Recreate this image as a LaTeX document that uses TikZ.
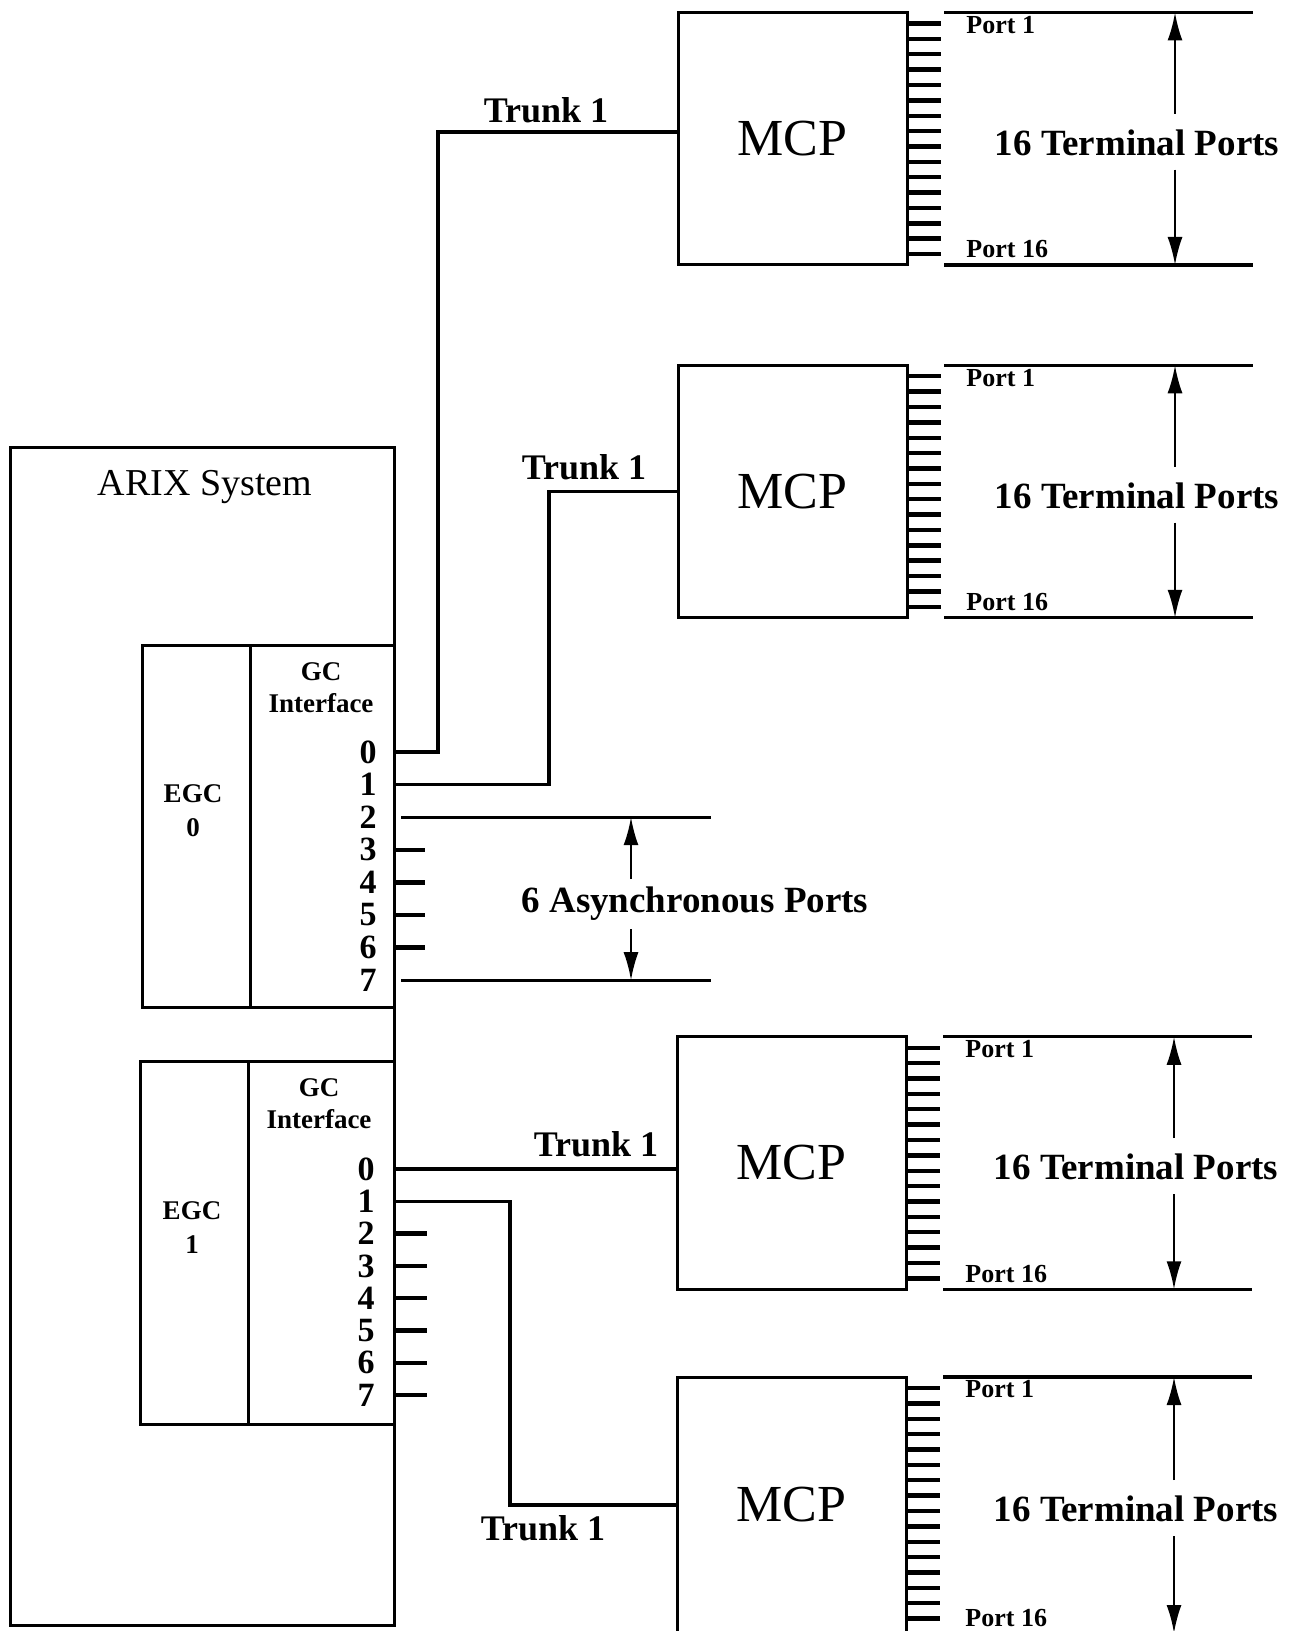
\documentclass[tikz,border=0pt]{standalone}
\usepackage{fontspec}
\setmainfont{Liberation Serif}
\usetikzlibrary{arrows.meta,calc}
\begin{document}
\begin{tikzpicture}[x=0.5pt,y=-0.5pt,
  box/.style={draw, line width=1.5pt, inner sep=0pt, outer sep=0pt},
  mcpbox/.style={box, minimum width=114.5pt, minimum height=126.25pt, font=\fontsize{26}{28}\selectfont},
  wire/.style={line width=1.6pt},
  tickline/.style={line width=2.2pt},
  dim/.style={line width=1.1pt, -{Latex[length=14pt,width=7.5pt]}},
  trunk/.style={font=\bfseries\fontsize{18}{20}\selectfont, inner sep=0pt},
  big/.style={font=\bfseries\fontsize{18.5}{20}\selectfont, inner sep=0pt},
  small/.style={font=\bfseries\fontsize{13}{15}\selectfont, inner sep=0pt},
  mid/.style={font=\bfseries\fontsize{13.5}{16}\selectfont, inner sep=0pt, align=center},
  num/.style={font=\bfseries\fontsize{17}{17}\selectfont, inner sep=0pt}]
\useasboundingbox (0,0) rectangle (1299,1631);

% ARIX system box
\node[box, minimum width=191.8pt, minimum height=589pt] (arix) at (202.2,1036) {};
\node[font=\fontsize{19}{21}\selectfont, inner sep=0pt] (arixlab) at (205,487) {ARIX System};

% EGC 0
\node[box, minimum width=53.75pt, minimum height=181pt] (egc0) at (196.25,826) {};
\node[box, minimum width=72pt, minimum height=181pt] (gc0) at (322,826) {};
\node[mid, font=\bfseries\fontsize{13.5}{17}\selectfont] (egc0lab) at (193,811) {EGC\\0};
\node[mid, font=\bfseries\fontsize{13.5}{16}\selectfont] (gc0lab) at (321,688) {GC\\Interface};

% EGC 1
\node[box, minimum width=54pt, minimum height=181.5pt] (egc1) at (194,1242.5) {};
\node[box, minimum width=73pt, minimum height=181.5pt] (gc1) at (321,1242.5) {};
\node[mid, font=\bfseries\fontsize{13.5}{17}\selectfont] (egc1lab) at (192,1228) {EGC\\1};
\node[mid, font=\bfseries\fontsize{13.5}{16}\selectfont] (gc1lab) at (319,1104) {GC\\Interface};

% port coordinates
\foreach \i in {0,...,7}{
  \coordinate (a\i) at (394,752+\i*32.6);
  \coordinate (b\i) at (394,1169+\i*32.3);
  \node[num] (na\i) at ($(a\i)+(-26,0)$) {\i};
  \node[num] (nb\i) at ($(b\i)+(-28,0)$) {\i};
}

% MCP boxes
\node[mcpbox] (mcp1) at (792.5,138.75) {MCP};
\node[mcpbox] (mcp2) at (792.5,491.5) {MCP};
\node[mcpbox] (mcp3) at (791.5,1163) {MCP};
\node[mcpbox, minimum height=128pt] (mcp4) at (791.5,1505) {MCP};

% terminal ports of each MCP
\foreach \m in {mcp1,mcp2,mcp3,mcp4}{
  \foreach \i in {0,...,15}{
    \draw[tickline] ($(\m.north east)+(0,11+\i*15.37)$) -- ++(34,0);
  }
  \draw[wire] ($(\m.north east)+(37,0)$) -- ($(\m.north east)+(346,0)$);
  \draw[wire] ($(\m.south east)+(37,0)$) -- ($(\m.south east)+(346,0)$);
  \node[big] (\m txt) at ($(\m.east)+(230,4)$) {16 Terminal Ports};
  \draw[dim] ($(\m.east)+(268,-25)$) -- ($(\m.north east)+(268,0)$);
  \draw[dim] ($(\m.east)+(268,31)$) -- ($(\m.south east)+(268,0)$);
  \node[small, anchor=west] (\m p1) at ($(\m.north east)+(59,12.5)$) {Port 1};
  \node[small, anchor=west] (\m p16) at ($(\m.south east)+(59,-15.5)$) {Port 16};
}

% EGC 0 connections
\draw[wire] (a0) -- ++(44,0) |- (mcp1.west |- 0,132);
\draw[wire] (a1) -- ++(155,0) |- (mcp2.west);
\draw[wire] ($(a2)+(7,0)$) -- ++(310,0);
\draw[wire] ($(a7)+(7,0)$) -- ++(310,0);
\foreach \i in {3,...,6}{ \draw[tickline] (a\i) -- ++(31,0); }
\node[big] (async) at (695,904) {6 Asynchronous Ports};
\draw[dim] (631,879) -- (631,0 |- a2);
\draw[dim] (631,929) -- (631,0 |- a7);

% EGC 1 connections
\draw[wire] (b0) -- (mcp3.west |- b0);
\draw[wire] (b1) -- ++(116,0) |- (mcp4.west);
\foreach \i in {2,...,7}{ \draw[tickline] (b\i) -- ++(33,0); }

% trunk labels
\node[trunk] (t1) at (546,110) {Trunk 1};
\node[trunk] (t2) at (584,467) {Trunk 1};
\node[trunk] (t3) at (596,1144) {Trunk 1};
\node[trunk] (t4) at (543,1528) {Trunk 1};
\end{tikzpicture}
\end{document}
